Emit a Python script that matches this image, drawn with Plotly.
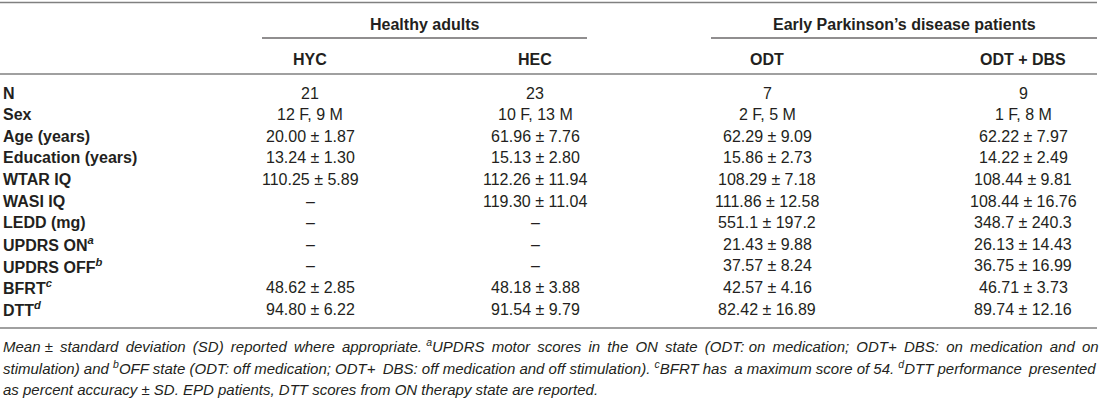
import plotly.graph_objects as go

# table content
groups = ["Healthy adults", "Early Parkinson’s disease patients"]
columns = ["HYC", "HEC", "ODT", "ODT + DBS"]
row_labels = ["N", "Sex", "Age (years)", "Education (years)", "WTAR IQ", "WASI IQ",
              "LEDD (mg)", "UPDRS ON<sup><i>a</i></sup>", "UPDRS OFF<sup><i>b</i></sup>",
              "BFRT<sup><i>c</i></sup>", "DTT<sup><i>d</i></sup>"]
hyc = ["21", "12 F, 9 M", "20.00 ± 1.87", "13.24 ± 1.30", "110.25 ± 5.89", "–", "–", "–", "–",
       "48.62 ± 2.85", "94.80 ± 6.22"]
hec = ["23", "10 F, 13 M", "61.96 ± 7.76", "15.13 ± 2.80", "112.26 ± 11.94", "119.30 ± 11.04",
       "–", "–", "–", "48.18 ± 3.88", "91.54 ± 9.79"]
odt = ["7", "2 F, 5 M", "62.29 ± 9.09", "15.86 ± 2.73", "108.29 ± 7.18", "111.86 ± 12.58",
       "551.1 ± 197.2", "21.43 ± 9.88", "37.57 ± 8.24", "42.57 ± 4.16", "82.42 ± 16.89"]
odt_dbs = ["9", "1 F, 8 M", "62.22 ± 7.97", "14.22 ± 2.49", "108.44 ± 9.81", "108.44 ± 16.76",
           "348.7 ± 240.3", "26.13 ± 14.43", "36.75 ± 16.99", "46.71 ± 3.73", "89.74 ± 12.16"]
footnote = [
    "Mean ± standard deviation (SD) reported where appropriate. <sup>a</sup>UPDRS motor scores in the ON state (ODT: on medication; ODT+ DBS: on medication and on",
    "stimulation) and <sup>b</sup>OFF state (ODT: off medication; ODT+ DBS: off medication and off stimulation). <sup>c</sup>BFRT has a maximum score of 54. <sup>d</sup>DTT performance presented",
    "as percent accuracy ± SD. EPD patients, DTT scores from ON therapy state are reported.",
]

# layout (pixel coordinates)
W, H = 1100, 403
col_x = [310, 535, 767, 1023]
group_x = [424, 904]
group_span = [(262, 587), (711, 1097)]
row_y0, row_dy = 93, 21.6
foot_y = [345, 367, 389]
foot_extra = [20, 3, 0]   # thin spaces added per line to mimic justified text
FONT = "Liberation Sans"
INK = "#231f20"
RULE = "#808080"

fig = go.Figure()
fig.add_trace(go.Scatter(x=[0, W], y=[0, H], mode="markers", marker=dict(opacity=0),
                         hoverinfo="skip", showlegend=False))

def txt(x, y, s, size=16, anchor="center", bold=False, italic=False):
    if bold:
        s = f"<b>{s}</b>"
    if italic:
        s = f"<i>{s}</i>"
    fig.add_annotation(x=x, y=y, text=s, showarrow=False, xanchor=anchor, yanchor="middle",
                       borderpad=0, font=dict(family=FONT, size=size, color=INK))

def widen(line, n):
    # spread n thin spaces evenly over the word gaps
    parts = line.split(" ")
    gaps = len(parts) - 1
    out = parts[0]
    for j, p in enumerate(parts[1:]):
        extra = ((j + 1) * n) // gaps > (j * n) // gaps
        out += (" \u2009" if extra else " ") + p
    return out

# rules
fig.add_shape(type="line", x0=0, x1=1097, y0=2.5, y1=2.5, line=dict(color=RULE, width=1.5))
for a, b in group_span:
    fig.add_shape(type="line", x0=a, x1=b, y0=38, y1=38, line=dict(color=INK, width=1.2))
fig.add_shape(type="line", x0=0, x1=1097, y0=74, y1=74, line=dict(color=RULE, width=1.5))
fig.add_shape(type="line", x0=0, x1=1097, y0=328, y1=328, line=dict(color=RULE, width=1.5))

# headers
for gx, g in zip(group_x, groups):
    txt(gx, 24, g, bold=True)
for cx, c in zip(col_x, columns):
    txt(cx, 59, c, bold=True)

# body
for i, lab in enumerate(row_labels):
    y = row_y0 + i * row_dy
    txt(2, y, lab, anchor="left", bold=True)
    for cx, col in zip(col_x, [hyc, hec, odt, odt_dbs]):
        txt(cx, y, col[i])

# footnote
for fy, line, n in zip(foot_y, footnote, foot_extra):
    txt(2, fy, widen(line, n), size=15, anchor="left", italic=True)

fig.update_xaxes(range=[0, W], visible=False)
fig.update_yaxes(range=[H, 0], visible=False)
fig.update_layout(width=W, height=H, margin=dict(l=0, r=0, t=0, b=0),
                  plot_bgcolor="white", paper_bgcolor="white")
fig.write_html("out.html", config={"displayModeBar": False},
               post_script="document.body.style.margin='0';")
